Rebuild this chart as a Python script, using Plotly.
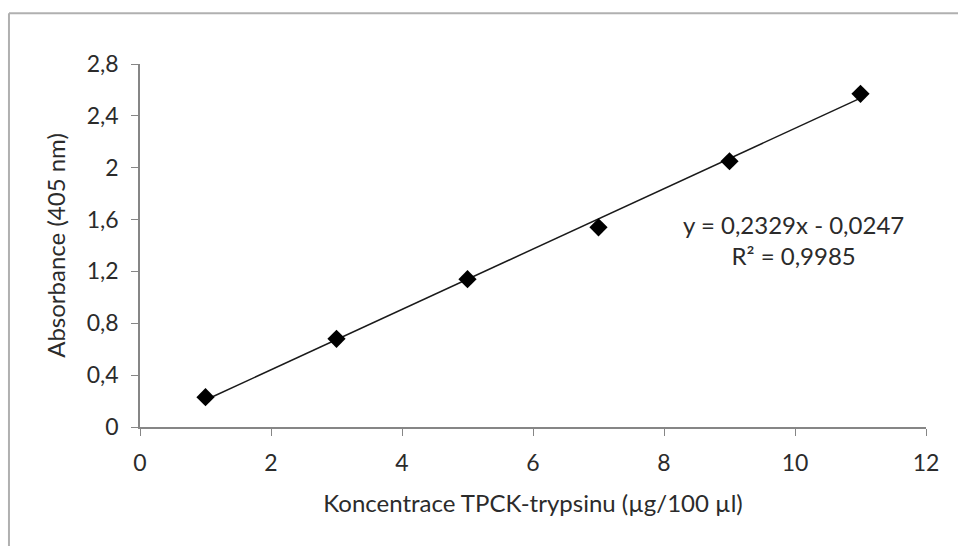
import plotly.graph_objects as go

# Data
conc = [1, 3, 5, 7, 9, 11]
absorbance = [0.23, 0.68, 1.14, 1.54, 2.05, 2.57]
slope = 0.2329
intercept = -0.0247
x_ticks = [0, 2, 4, 6, 8, 10, 12]
x_tick_text = ["0", "2", "4", "6", "8", "10", "12"]
y_ticks = [0, 0.4, 0.8, 1.2, 1.6, 2.0, 2.4, 2.8]
y_tick_text = ["0", "0,4", "0,8", "1,2", "1,6", "2", "2,4", "2,8"]

trend_x = [min(conc), max(conc)]
trend_y = [slope * v + intercept for v in trend_x]

font_family = "Lato, Open Sans, sans-serif"
text_color = "#2b2b2b"

fig = go.Figure()
fig.add_trace(go.Scatter(x=trend_x, y=trend_y, mode="lines",
                         line=dict(color="#1a1a1a", width=1.5),
                         hoverinfo="skip", showlegend=False))
fig.add_trace(go.Scatter(x=conc, y=absorbance, mode="markers",
                         marker=dict(symbol="diamond", size=14, color="black"),
                         showlegend=False))

fig.add_annotation(x=0.832, y=0.515, xref="paper", yref="paper",
                   xanchor="center", yanchor="middle",
                   text="y = 0,2329x - 0,0247<br>R² = 0,9985",
                   showarrow=False, align="center",
                   font=dict(family=font_family, size=24, color=text_color))

# outer frame (top & left visible)
fig.add_shape(type="line", xref="paper", yref="paper",
              x0=-0.1667, x1=1.1, y0=1.140, y1=1.140,
              line=dict(color="#b0b0b0", width=2))
fig.add_shape(type="line", xref="paper", yref="paper",
              x0=-0.1667, x1=-0.1667, y0=-0.4, y1=1.140,
              line=dict(color="#b0b0b0", width=2))

fig.update_layout(
    width=958, height=546,
    margin=dict(l=140, r=32, t=64, b=119),
    paper_bgcolor="white", plot_bgcolor="white",
    font=dict(family=font_family, size=23, color=text_color),
    xaxis=dict(range=[0, 12], tickvals=x_ticks, ticktext=x_tick_text,
               showgrid=False, zeroline=False, showline=True, linecolor="#868686",
               linewidth=1.5, ticks="outside", ticklen=7, tickcolor="#868686",
               ticklabelstandoff=8, tickfont=dict(size=23),
               title=dict(text="Koncentrace TPCK-trypsinu (µg/100 µl)",
                          font=dict(size=24), standoff=20)),
    yaxis=dict(range=[0, 2.8], tickvals=y_ticks, ticktext=y_tick_text,
               showgrid=False, zeroline=False, showline=True, linecolor="#868686",
               linewidth=1.5, ticks="outside", ticklen=7, tickcolor="#868686",
               ticklabelstandoff=8, tickfont=dict(size=23),
               title=dict(text="Absorbance (405 nm)", font=dict(size=24), standoff=14)),
)

fig.write_html("out.html")
